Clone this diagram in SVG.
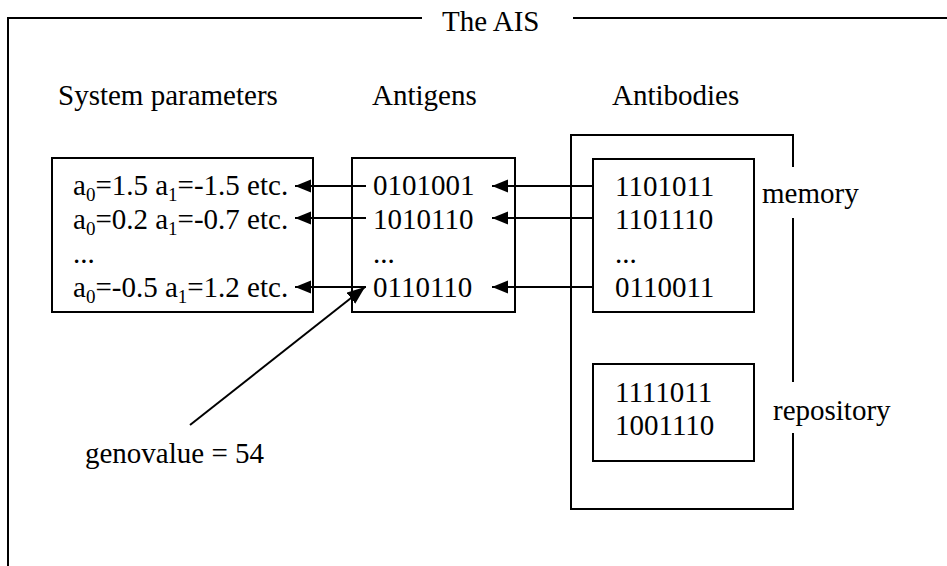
<svg xmlns="http://www.w3.org/2000/svg" width="947" height="566" viewBox="0 0 947 566" font-family="'Liberation Serif', 'Times New Roman', Times, serif">
<style>
text{font-family:'Liberation Serif','Times New Roman',Times,serif;font-size:29px;fill:#000}
.box{fill:none;stroke:#000;stroke-width:2}
.ln{fill:none;stroke:#000;stroke-width:2}
.sub{font-size:19px}
</style>
<defs>
<marker id="ah" markerUnits="userSpaceOnUse" markerWidth="17" markerHeight="14" refX="16" refY="6.5" orient="auto">
<path d="M0,0 L16,6.5 L0,13 Z" fill="#000"/>
</marker>
<marker id="ah2" markerUnits="userSpaceOnUse" markerWidth="20" markerHeight="16" refX="18" refY="7" orient="auto">
<path d="M0,0 L18,7 L0,14 Z" fill="#000"/>
</marker>
</defs>
<g id="frame">
<path class="ln" d="M422,18 H8 V566"/>
<path class="ln" d="M573,18 H947"/>
<text x="442" y="31">The AIS</text>
</g>
<g id="headers">
<text x="58" y="105">System parameters</text>
<text x="372" y="105">Antigens</text>
<text x="612" y="105">Antibodies</text>
</g>
<g id="system-parameters">
<rect class="box" x="52" y="158" width="261" height="154"/>
<text x="73" y="195">a<tspan class="sub" dy="6">0</tspan><tspan dy="-6">=1.5 a</tspan><tspan class="sub" dy="6">1</tspan><tspan dy="-6">=-1.5 etc.</tspan></text>
<text x="73" y="229">a<tspan class="sub" dy="6">0</tspan><tspan dy="-6">=0.2 a</tspan><tspan class="sub" dy="6">1</tspan><tspan dy="-6">=-0.7 etc.</tspan></text>
<text x="73" y="263">...</text>
<text x="73" y="297">a<tspan class="sub" dy="6">0</tspan><tspan dy="-6">=-0.5 a</tspan><tspan class="sub" dy="6">1</tspan><tspan dy="-6">=1.2 etc.</tspan></text>
</g>
<g id="antigens">
<rect class="box" x="352" y="158" width="163" height="154"/>
<text x="373" y="195">0101001</text>
<text x="373" y="229">1010110</text>
<text x="373" y="263">...</text>
<text x="373" y="297">0110110</text>
</g>
<g id="antibodies">
<path class="ln" d="M793,167 V135 H571 V509 H793 V433"/>
<path class="ln" d="M793,218 V382"/>
<text x="762" y="203">memory</text>
<text x="773" y="420">repository</text>
</g>
<g id="memory">
<rect class="box" x="593" y="159" width="161" height="153"/>
<text x="615" y="196">1101011</text>
<text x="615" y="229">1101110</text>
<text x="615" y="263">...</text>
<text x="615" y="297">0110011</text>
</g>
<g id="repository">
<rect class="box" x="593" y="364" width="161" height="97"/>
<text x="615" y="402">1111011</text>
<text x="615" y="435">1001110</text>
</g>
<g id="genovalue">
<text x="85" y="463">genovalue = 54</text>
</g>
<g id="connectors">
<line class="ln" x1="366" y1="186" x2="295" y2="186" marker-end="url(#ah)"/>
<line class="ln" x1="366" y1="218" x2="295" y2="218" marker-end="url(#ah)"/>
<line class="ln" x1="366" y1="287" x2="295" y2="287" marker-end="url(#ah)"/>
<line class="ln" x1="593" y1="186" x2="492" y2="186" marker-end="url(#ah)"/>
<line class="ln" x1="593" y1="218" x2="492" y2="218" marker-end="url(#ah)"/>
<line class="ln" x1="593" y1="287" x2="492" y2="287" marker-end="url(#ah)"/>
<line class="ln" x1="190" y1="425" x2="365" y2="287" marker-end="url(#ah2)"/>
</g>
</svg>
